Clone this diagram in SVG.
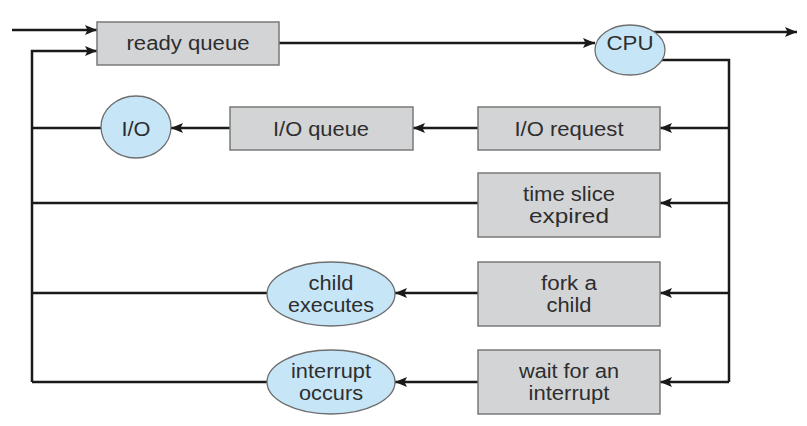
<svg xmlns="http://www.w3.org/2000/svg" width="807" height="426" viewBox="0 0 807 426">
<defs>
<marker id="ah" markerUnits="userSpaceOnUse" markerWidth="14" markerHeight="12" refX="12" refY="5" orient="auto" viewBox="0 0 14 10">
<path d="M0,0 L12,5 L0,10 L2.5,5 Z" fill="#1a1a1a"/>
</marker>
</defs>
<style>
.box{fill:#d3d4d6;stroke:#7a7a7a;stroke-width:1.5}
.ell{fill:#c6e6f7;stroke:#6e6e6e;stroke-width:1.3}
.ln{fill:none;stroke:#1a1a1a;stroke-width:2.5}
.ar{marker-end:url(#ah)}
text{font-family:"Liberation Sans",Arial,sans-serif;font-size:20px;fill:#2e2e2e;text-anchor:middle}
</style>
<rect width="807" height="426" fill="#ffffff"/>
<g id="connectors">
<path class="ln ar" d="M12,30 H97"/>
<path class="ln ar" d="M32,382 V51 H97"/>
<path class="ln" d="M101,128 H32"/>
<path class="ln" d="M478,203 H32"/>
<path class="ln" d="M267,293 H32"/>
<path class="ln" d="M267,382 H32"/>
<path class="ln ar" d="M279,43 H595"/>
<path class="ln ar" d="M650,32 H797"/>
<path class="ln" d="M640,60 H729 V382"/>
<path class="ln ar" d="M729,128 H660"/>
<path class="ln ar" d="M729,203 H660"/>
<path class="ln ar" d="M729,293 H660"/>
<path class="ln ar" d="M729,382 H660"/>
<path class="ln ar" d="M478,128 H413"/>
<path class="ln ar" d="M230,128 H171"/>
<path class="ln ar" d="M478,293 H395"/>
<path class="ln ar" d="M478,382 H395"/>
</g>
<g id="ready-queue">
<rect class="box" x="97" y="22" width="182" height="43"/>
<text x="188" y="50" textLength="123" lengthAdjust="spacingAndGlyphs">ready queue</text>
</g>
<g id="cpu">
<ellipse class="ell" cx="630" cy="50" rx="35" ry="25"/>
<text x="630" y="50" textLength="47" lengthAdjust="spacingAndGlyphs">CPU</text>
</g>
<g id="io">
<ellipse class="ell" cx="136" cy="127" rx="35" ry="31"/>
<text x="136" y="136" textLength="29" lengthAdjust="spacingAndGlyphs">I/O</text>
</g>
<g id="io-queue">
<rect class="box" x="230" y="107" width="183" height="43"/>
<text x="321" y="136" textLength="96" lengthAdjust="spacingAndGlyphs">I/O queue</text>
</g>
<g id="io-request">
<rect class="box" x="478" y="107" width="182" height="43"/>
<text x="569" y="136" textLength="109" lengthAdjust="spacingAndGlyphs">I/O request</text>
</g>
<g id="time-slice">
<rect class="box" x="478" y="173" width="182" height="64"/>
<text x="569" y="201" textLength="92" lengthAdjust="spacingAndGlyphs">time slice</text>
<text x="569" y="223" textLength="80" lengthAdjust="spacingAndGlyphs">expired</text>
</g>
<g id="fork">
<rect class="box" x="478" y="262" width="182" height="64"/>
<text x="569" y="290" textLength="56" lengthAdjust="spacingAndGlyphs">fork a</text>
<text x="569" y="312" textLength="45" lengthAdjust="spacingAndGlyphs">child</text>
</g>
<g id="wait">
<rect class="box" x="478" y="350" width="182" height="64"/>
<text x="569" y="378" textLength="100" lengthAdjust="spacingAndGlyphs">wait for an</text>
<text x="569" y="400" textLength="81" lengthAdjust="spacingAndGlyphs">interrupt</text>
</g>
<g id="child-executes">
<ellipse class="ell" cx="331" cy="294" rx="64" ry="32"/>
<text x="331" y="290" textLength="45" lengthAdjust="spacingAndGlyphs">child</text>
<text x="331" y="312" textLength="86" lengthAdjust="spacingAndGlyphs">executes</text>
</g>
<g id="interrupt-occurs">
<ellipse class="ell" cx="331" cy="382" rx="64" ry="32"/>
<text x="331" y="378" textLength="80" lengthAdjust="spacingAndGlyphs">interrupt</text>
<text x="331" y="400" textLength="64" lengthAdjust="spacingAndGlyphs">occurs</text>
</g>
</svg>
